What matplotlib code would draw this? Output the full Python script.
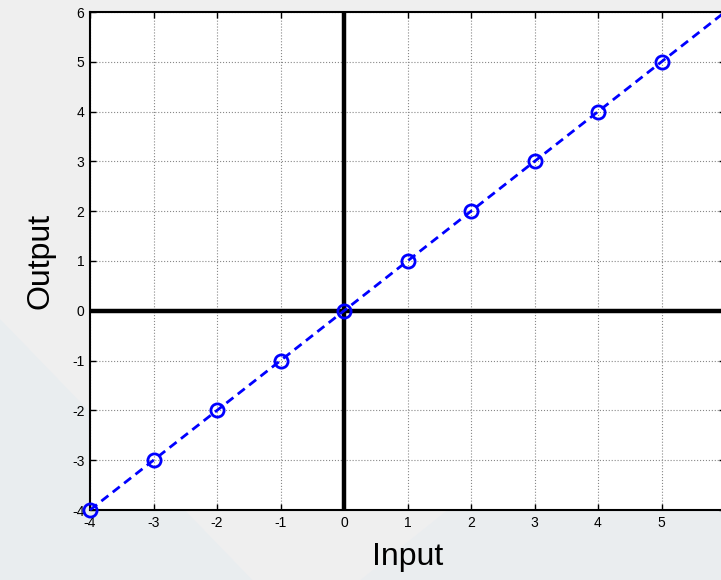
import matplotlib
matplotlib.use("Agg")
import matplotlib.pyplot as plt
from matplotlib.patches import Polygon

x_vals = [-4, -3, -2, -1, 0, 1, 2, 3, 4, 5]
y_vals = [-4, -3, -2, -1, 0, 1, 2, 3, 4, 5]
line_x = [-4, 6]
line_y = [-4, 6]
x_ticks = [-4, -3, -2, -1, 0, 1, 2, 3, 4, 5]
y_ticks = [-4, -3, -2, -1, 0, 1, 2, 3, 4, 5, 6]

plt.rcParams['font.family'] = ['Liberation Sans', 'DejaVu Sans']

fig = plt.figure(figsize=(7.21, 5.80), dpi=100)
fig.patch.set_facecolor('#efefef')
# faint watermark shapes
fig.patches.append(Polygon([[0, 0], [0, 0.45], [0.35, 0.0]], closed=True,
                           transform=fig.transFigure, facecolor='#e9edef',
                           edgecolor='none', zorder=-10))
fig.patches.append(Polygon([[0.5, 0.0], [0.62, 0.12], [1.0, 0.12], [1.0, 0.0]], closed=True,
                           transform=fig.transFigure, facecolor='#eaedef',
                           edgecolor='none', zorder=-10))

W, H = 721, 580
left, right, top, bottom = 90, 725, 12, 510
ax = fig.add_axes([left / W, 1 - bottom / H, (right - left) / W, (bottom - top) / H])
ax.set_zorder(1)
ax.set_facecolor('white')
ax.set_xlim(-4, 6)
ax.set_ylim(-4, 6)
ax.set_xticks(x_ticks)
ax.set_yticks(y_ticks)
ax.set_xticklabels([str(v) for v in x_ticks])
ax.set_yticklabels([str(v) for v in y_ticks])
ax.tick_params(direction='in', length=4, width=1, labelsize=10, top=True, right=True,
               colors='black', pad=4)
ax.grid(True, color='#888888', linestyle=':', linewidth=0.8)
ax.set_axisbelow(True)
for s in ax.spines.values():
    s.set_linewidth(1.5)
    s.set_color('black')

ax.axhline(0, color='black', linewidth=3.2, zorder=2)
ax.axvline(0, color='black', linewidth=3.2, zorder=2)

ax.plot(line_x, line_y, color='#0000ff', linestyle='--', linewidth=2,
        dashes=(3.2, 2.0), zorder=3, clip_on=False)
ax.plot(x_vals, y_vals, linestyle='none', marker='o', markersize=9.5,
        markerfacecolor='none', markeredgecolor='#0000ff', markeredgewidth=2,
        zorder=4, clip_on=False)

ax.set_xlabel('Input', fontsize=23, labelpad=9)
ax.set_ylabel('Output', fontsize=23, labelpad=12)

fig.savefig('out.png', dpi=100, facecolor=fig.get_facecolor())
